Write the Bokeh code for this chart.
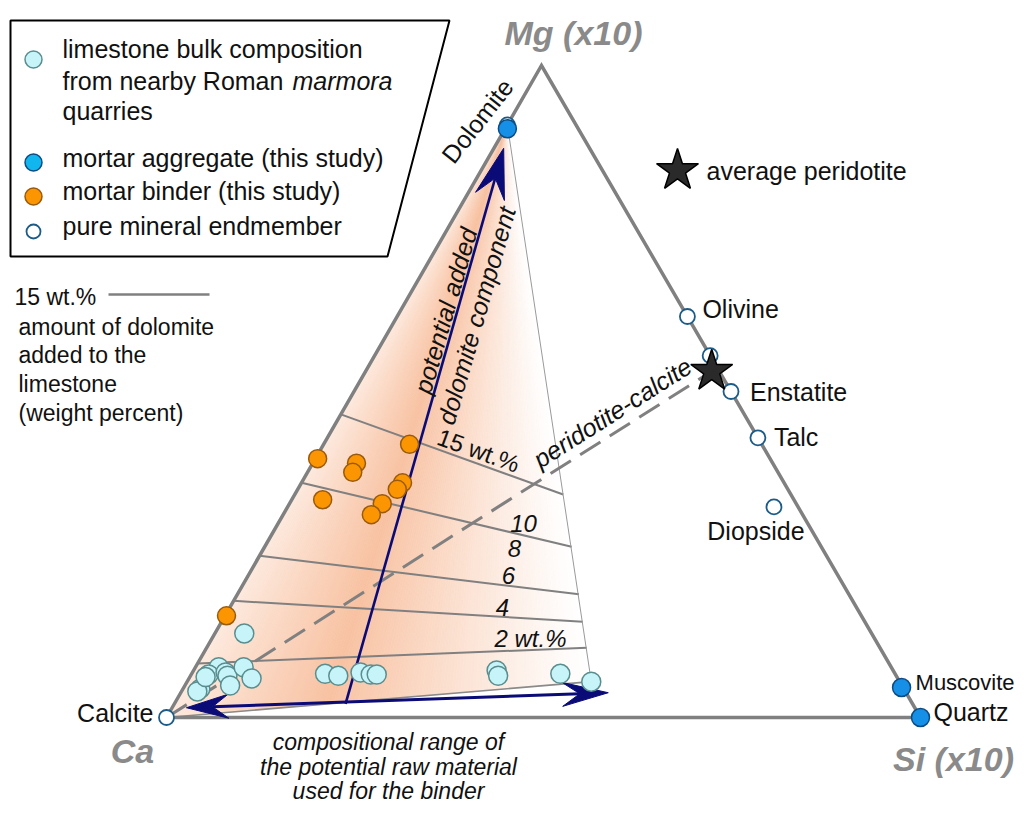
import numpy as np
from bokeh.plotting import figure
from bokeh.models import Range1d
from bokeh.core.properties import value
from bokeh.embed import file_html
from bokeh.resources import INLINE

# ---------------- data: ternary proportions in percent (Ca, Mg x10, Si x10); Ca = 100 - Mg - Si
limestone_mg = [12.9, 7.7, 6.6, 6.9, 6.4, 7.7, 6.0, 4.9, 4.4, 4.0, 6.2, 6.7, 6.4, 6.9, 6.6, 6.6, 7.2, 6.4, 6.7, 5.5]
limestone_si = [3.9, 3.1, 2.3, 4.4, 4.9, 6.4, 8.3, 6.0, 2.3, 2.1, 2.1, 17.7, 19.6, 22.3, 23.8, 24.6, 40.2, 40.8, 48.9, 53.6]

binder_mg = [39.7, 39.0, 37.6, 41.9, 36.0, 35.0, 33.4, 32.8, 31.1, 15.6]
binder_si = [0.3, 5.8, 6.0, 11.4, 13.4, 13.2, 4.1, 12.3, 11.7, 0.2]

aggregate_names = ["Dolomite", "Muscovite", "Quartz"]
aggregate_mg = [90.3, 4.6, 0.0]
aggregate_si = [0.3, 95.2, 100.0]

endmember_names = ["Calcite", "Dolomite", "Olivine", "", "Enstatite", "Talc", "Diopside"]
endmember_mg = [0.0, 90.9, 61.5, 55.5, 50.0, 42.9, 32.3]
endmember_si = [0.0, 0.0, 38.5, 44.5, 50.0, 57.1, 64.5]

peridotite_mg = [53.1]
peridotite_si = [45.9]

# iso-lines of added dolomite (wt.%)
iso_labels = ["15 wt.%", "10", "8", "6", "4", "2 wt.%"]
iso_left_mg = [46.5, 36.0, 24.8, 17.9, 8.3]
iso_left_si = [0.0, 0.0, 0.0, 0.0, 0.0]
iso_right_mg = [34.2, 26.2, 18.9, 14.7, 10.7]
iso_right_si = [35.6, 40.7, 45.3, 47.9, 50.4]

# arrows (ternary positions)
mix_arrow_mg = [2.1, 87.3]
mix_arrow_si = [22.7, 1.3]
range_arrow_mg = [1.5, 3.8]
range_arrow_si = [1.9, 56.7]

# ---------------- geometry
H_PAGE = 820
CA = (166.0, H_PAGE - 717.0)
SI = (920.0, H_PAGE - 717.0)
MG = (541.0, H_PAGE - 65.0)


def tern(mg, si):
    mg = np.asarray(mg, dtype=float) / 100.0
    si = np.asarray(si, dtype=float) / 100.0
    ca = 1.0 - mg - si
    x = ca * CA[0] + mg * MG[0] + si * SI[0]
    y = ca * CA[1] + mg * MG[1] + si * SI[1]
    return x, y


def Y(py):
    return H_PAGE - py


FONT = value("Liberation Sans")
GRAY = "#808080"
NAVY = "#0b0b78"

p = figure(width=1017, height=804, x_range=Range1d(0, 1017), y_range=Range1d(16, 820),
           output_backend="svg", toolbar_location=None, min_border=0,
           x_axis_type=None, y_axis_type=None)
p.grid.visible = False
p.outline_line_color = None
p.background_fill_color = "white"
p.border_fill_color = "white"


def txt(x, py, s, size=25, color="#111111", align="left", style="normal", angle_deg=0.0):
    p.text(x=[x], y=[Y(py)], text=[s], text_font=FONT, text_font_size=f"{size}px",
           text_color=color, text_align=align, text_baseline="middle",
           text_font_style=style, angle=np.deg2rad(angle_deg))


# ---------------- shaded field (fan gradient from dolomite)
cx, cy = tern(endmember_mg[0], endmember_si[0])
dx, dy = tern(endmember_mg[1], endmember_si[1])
rx, ry = tern(limestone_mg[-1], limestone_si[-1])
PEAK = (248, 194, 162)
N = 140
fx, fy, fc = [], [], []
for k in range(N):
    s0, s1 = k / N, (k + 1) / N
    sm = 0.5 * (s0 + s1)
    f = 0.35 + 0.65 * sm / 0.38 if sm < 0.38 else max(0.0, (1.0 - sm) / 0.62) ** 1.1
    col = "#%02x%02x%02x" % tuple(int(round(255 - (255 - c) * f)) for c in PEAK)
    fx.append([float(dx), float(cx + (rx - cx) * s0), float(cx + (rx - cx) * s1)])
    fy.append([float(dy), float(cy + (ry - cy) * s0), float(cy + (ry - cy) * s1)])
    fc.append(col)
p.patches(fx, fy, fill_color=fc, line_color=fc, line_width=0.8)

# ---------------- iso-lines
for lm, ls, rm, rs in zip(iso_left_mg, iso_left_si, iso_right_mg, iso_right_si):
    x0, y0 = tern(lm, ls)
    x1, y1 = tern(rm, rs)
    p.line([x0, x1], [y0, y1], line_color=GRAY, line_width=2)

# field boundaries (thin)
p.line([dx, rx], [dy, ry], line_color="#9a9a9a", line_width=1)
p.line([cx, rx], [cy, ry], line_color="#8a8a8a", line_width=1.6)

# peridotite-calcite dashed
sx, sy = tern(peridotite_mg, peridotite_si)
p.line([cx, sx[0]], [cy, sy[0]], line_color=GRAY, line_width=3, line_dash="24 11")

# triangle
p.line([CA[0], SI[0], MG[0], CA[0]], [CA[1], SI[1], MG[1], CA[1]],
       line_color=GRAY, line_width=3.5, line_join="miter")


# ---------------- arrows
def vee(tip, frm, L, hw, notch=0.62):
    t = np.array(tip, dtype=float)
    d = t - np.array(frm, dtype=float)
    d /= np.hypot(*d)
    n = np.array([-d[1], d[0]])
    back = t - d * L
    w1 = back + n * hw
    w2 = back - n * hw
    nt = t - d * L * notch
    return [t[0], w1[0], nt[0], w2[0]], [t[1], w1[1], nt[1], w2[1]], nt


ax_, ay_ = tern(mix_arrow_mg, mix_arrow_si)
hx, hy, nt = vee((ax_[1], ay_[1]), (ax_[0], ay_[0]), 50, 15)
p.line([ax_[0], nt[0]], [ay_[0], nt[1]], line_color=NAVY, line_width=2.6)
p.patch(hx, hy, fill_color=NAVY, line_color=NAVY, line_width=1)

bx_, by_ = tern(range_arrow_mg, range_arrow_si)
h1x, h1y, n1 = vee((bx_[0], by_[0]), (bx_[1], by_[1]), 42, 12)
h2x, h2y, n2 = vee((bx_[1], by_[1]), (bx_[0], by_[0]), 46, 12)
p.line([n1[0], n2[0]], [n1[1], n2[1]], line_color=NAVY, line_width=3)
p.patch(h1x, h1y, fill_color=NAVY, line_color=NAVY, line_width=1)
p.patch(h2x, h2y, fill_color=NAVY, line_color=NAVY, line_width=1)

# ---------------- points
CYAN_F, CYAN_L = "#c6f4f9", "#5a8d8e"
OR_F, OR_L = "#fb9602", "#9a5a0c"
BL_F, BL_L = "#1690e6", "#0d4c82"
EM_L = "#1b5b88"

lx, ly = tern(limestone_mg, limestone_si)
p.scatter(lx, ly, size=19, fill_color=CYAN_F, line_color=CYAN_L, line_width=1.5)
ox, oy = tern(binder_mg, binder_si)
p.scatter(ox, oy, size=18, fill_color=OR_F, line_color=OR_L, line_width=1.5)
ex, ey = tern(endmember_mg, endmember_si)
p.scatter(ex, ey, size=15, fill_color="white", line_color=EM_L, line_width=1.8)
gx, gy = tern(aggregate_mg, aggregate_si)
p.scatter(gx, gy, size=18, fill_color=BL_F, line_color=BL_L, line_width=1.5)
p.scatter(sx, sy, marker="star", size=44, fill_color="#2a2a2a", line_color="black", line_width=1.5)

# ---------------- labels next to points (offsets in px)
lab_off = {"Calcite": (-13, -5, "right"), "Olivine": (15, -8, "left"), "Enstatite": (19, 0, "left"),
           "Talc": (16, -1, "left"), "Diopside": (-18, 24, "center")}
for name, x, y in zip(endmember_names, ex, ey):
    if name in lab_off:
        ox_, oy_, al = lab_off[name]
        p.text(x=[x + ox_], y=[y - oy_], text=[name], text_font=FONT, text_font_size="25px",
               text_color="#111111", text_align=al, text_baseline="middle")
dolx, doly = ex[1], ey[1]
p.text(x=[dolx - 30], y=[doly + 4], text=["Dolomite"], text_font=FONT, text_font_size="25px",
       text_color="#111111", text_align="center", text_baseline="middle", angle=np.deg2rad(52))
agg_off = {"Muscovite": (14, -5, "22px"), "Quartz": (13, -6, "25px")}
for name, x, y in zip(aggregate_names, gx, gy):
    if name in agg_off:
        ox_, oy_, fs = agg_off[name]
        p.text(x=[x + ox_], y=[y - oy_], text=[name], text_font=FONT, text_font_size=fs,
               text_color="#111111", text_align="left", text_baseline="middle")

# vertex labels
txt(573, 32, "Mg (x10)", size=34, color="#8a8a8a", align="center", style="bold italic")
txt(132, 750, "Ca", size=34, color="#8a8a8a", align="center", style="bold italic")
txt(953, 758, "Si (x10)", size=34, color="#8a8a8a", align="center", style="bold italic")

# iso labels
iso_pos = [(478, 450, -20, "normal"), (523, 523, 0, "italic"), (514, 548, 0, "italic"),
           (508, 575, 0, "italic"), (502, 607, 0, "italic"), (530, 638, 0, "italic")]
for lab, (x, y, a, st) in zip(iso_labels, iso_pos):
    txt(x, y, lab, size=24, align="center", style=st, angle_deg=a)

# rotated annotations
txt(445, 310, "potential added", size=25, align="center", style="italic", angle_deg=74)
txt(476, 315, "dolomite component", size=25, align="center", style="italic", angle_deg=74)
txt(612, 412, "peridotite-calcite", size=25, align="center", style="italic", angle_deg=32.5)

# bottom caption
for s, y in zip(["compositional range of", "the potential raw material", "used for the binder"], [741, 766, 790]):
    txt(388, y, s, size=23, align="center", style="italic")

# average peridotite key
p.scatter([677], [Y(170)], marker="star", size=44, fill_color="#2a2a2a", line_color="black", line_width=1.5)
txt(706, 170, "average peridotite", size=25)

# ---------------- legend box
p.patch([10, 449, 387, 10], [Y(20), Y(20), Y(256), Y(256)], fill_color=None, line_color="black", line_width=2)
p.scatter([33], [Y(59)], size=17, fill_color=CYAN_F, line_color=CYAN_L, line_width=1.5)
p.scatter([33], [Y(162)], size=17, fill_color="#12b6ee", line_color=BL_L, line_width=1.5)
p.scatter([33], [Y(196)], size=17, fill_color=OR_F, line_color=OR_L, line_width=1.5)
p.scatter([33], [Y(231)], size=14, fill_color="white", line_color=EM_L, line_width=1.8)
txt(62, 48, "limestone bulk composition")
txt(62, 80, "from nearby Roman")
txt(292, 80, "marmora", style="italic")
txt(62, 110, "quarries")
txt(62, 157, "mortar aggregate (this study)")
txt(62, 190, "mortar binder (this study)")
txt(62, 225, "pure mineral endmember")

# left key
txt(14, 296, "15 wt.%", size=23)
p.line([108, 209], [Y(294), Y(294)], line_color=GRAY, line_width=2.5)
for s, y in zip(["amount of dolomite", "added to the", "limestone", "(weight percent)"], [326, 354, 383, 412]):
    txt(18, y, s, size=23)

open("out.html", "w").write(file_html(p, INLINE))
